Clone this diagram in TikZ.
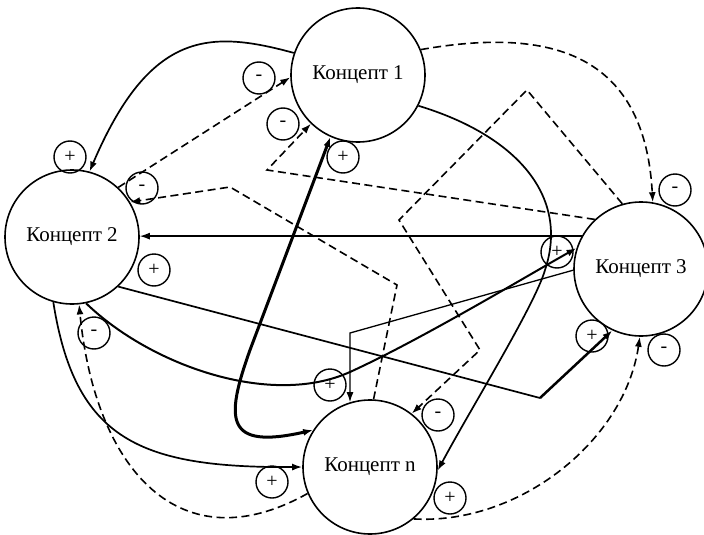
\documentclass[tikz,border=0pt]{standalone}
\usepackage{fontspec}
\setmainfont{Liberation Serif}
\usetikzlibrary{arrows.meta}
\begin{document}
\begin{tikzpicture}[x=1pt,y=-1pt,
  concept/.style={circle,draw,line width=1.6pt,minimum size=134pt,inner sep=0pt,font=\fontsize{21}{24}\selectfont},
  sign/.style={circle,draw,line width=1.4pt,minimum size=32pt,inner sep=0pt,font=\fontsize{20}{22}\selectfont},
  link/.style={line width=1.7pt},
  thinlink/.style={line width=1.3pt},
  dlink/.style={line width=1.6pt,dash pattern=on 8pt off 4.5pt},
  arr/.style={-{Latex[length=10pt,width=7pt]}},
  arrboth/.style={{Latex[length=10pt,width=7pt]}-{Latex[length=10pt,width=7pt]}}]
\useasboundingbox (0,0) rectangle (704,535);

% concepts
\node[concept] (c1) at (358,75) {Концепт 1};
\node[concept] (c2) at (72,237) {Концепт 2};
\node[concept] (c3) at (641,269) {Концепт 3};
\node[concept] (cn) at (370,467) {Концепт n};

% connectors
\draw[link,arr] (c1.161) .. controls (210,30) and (150,30) .. (c2.75);
\draw[dlink,arr] (c2.47) -- (c1.182);
\draw[dlink,arr] (cn.87) -- (397,285) -- (230,187) -- (c2.31);
\draw[dlink,arr] (c3.133) -- (267,170) -- (c1.226);
\draw[dlink,arr] (c3.106) -- (527,90) -- (399,220) -- (480,350) -- (cn.52);
\draw[dlink,arr] (c1.22) .. controls (560,25) and (645,60) .. (c3.80);
\draw[link,arr] (c1.333) .. controls (515,135) and (570,195) .. (545,270) .. controls (535,305) and (470,410) .. (cn.357);
\draw[thinlink,arr] (c3.151) -- (c3.151 -| c2.east);
\draw[line width=3pt,arrboth] (c1.246) -- (250,350) .. controls (225,420) and (225,450) .. (cn.147);
\draw[link] (c2.313) -- (540,398) coordinate (j1);
\draw[line width=2.5pt,arr] (j1) -- (c3.245);
\draw[line width=2pt,arr] (c2.282) .. controls (150,365) and (270,408) .. (350,372) .. controls (420,340) and (520,280) .. (c3.162);
\draw[thinlink,arr] (c3.181) -- (350,333) coordinate (l1) -- (l1 |- cn.107);
\draw[link,arr] (c2.254) .. controls (75,440) and (140,468) .. (cn.180);
\draw[dlink,arr] (cn.203) .. controls (180,565) and (95,470) .. (c2.276);
\draw[dlink,arr] (cn.310) .. controls (520,525) and (625,440) .. (c3.269);

% signs
\node[sign] (s1) at (259,78) {-};
\node[sign] (s2) at (283,124) {-};
\node[sign] (s3) at (343,157) {+};
\node[sign] (s4) at (70,157) {+};
\node[sign] (s5) at (142,188) {-};
\node[sign] (s6) at (154,270) {+};
\node[sign] (s7) at (557,252) {+};
\node[sign] (s8) at (675,190) {-};
\node[sign] (s9) at (592,336) {+};
\node[sign] (s10) at (664,350) {-};
\node[sign] (s11) at (94,333) {-};
\node[sign] (s12) at (330,385) {+};
\node[sign] (s13) at (438,415) {-};
\node[sign] (s14) at (272,482) {+};
\node[sign] (s15) at (450,498) {+};
\end{tikzpicture}
\end{document}
